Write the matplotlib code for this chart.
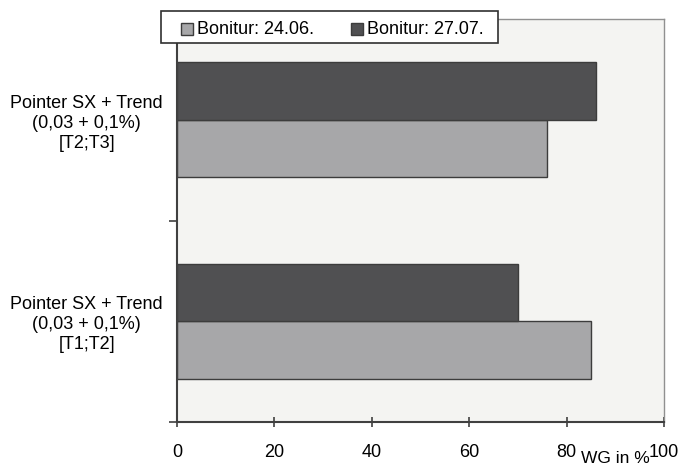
import numpy as np
import matplotlib.pyplot as plt
from matplotlib.patches import Rectangle

plt.rcParams['font.family'] = ['Liberation Sans', 'DejaVu Sans']

# categories bottom -> top
categories = ["Pointer SX + Trend\n(0,03 + 0,1%)\n[T1;T2]",
              "Pointer SX + Trend\n(0,03 + 0,1%)\n[T2;T3]"]
bonitur_2406 = [85, 76]
bonitur_2707 = [70, 86]
series_labels = ["Bonitur: 24.06.", "Bonitur: 27.07."]
xticks = [0, 20, 40, 60, 80, 100]

light = "#a7a7a9"
dark = "#505052"
edge = "#3c3c3c"
W, H = 684, 468

fig = plt.figure(figsize=(W / 100, H / 100), dpi=100)
ax = fig.add_axes([177 / W, 1 - 422 / H, 487 / W, 403 / H])
ax.set_facecolor("#f4f4f2")

y = np.arange(len(categories))
h = 0.285
ax.barh(y - h / 2, bonitur_2406, height=h, color=light, edgecolor=edge, linewidth=1.0)
ax.barh(y + h / 2, bonitur_2707, height=h, color=dark, edgecolor=edge, linewidth=1.0)

ax.set_xlim(0, 100)
ax.set_ylim(-0.5, len(categories) - 0.5)
ax.set_xticks(xticks)
ax.set_xticklabels([str(t) for t in xticks], fontsize=13)
ax.tick_params(axis="x", direction="inout", length=7, width=1.2, color="#404040", pad=12)

# y ticks at category boundaries, labels at centres
ax.set_yticks(np.arange(-0.5, len(categories), 1.0))
ax.set_yticklabels([])
ax.set_yticks(y, minor=True)
ax.set_yticklabels(categories, minor=True, fontsize=13, ha="center", linespacing=1.22)
ax.tick_params(axis="y", which="major", direction="out", length=6, width=1.2, color="#404040")
ax.tick_params(axis="y", which="minor", length=0, pad=65)

for s in ["left", "bottom"]:
    ax.spines[s].set_color("#404040")
    ax.spines[s].set_linewidth(1.5)
for s in ["top", "right"]:
    ax.spines[s].set_color("#909090")
    ax.spines[s].set_linewidth(1.0)

fig.text(650 / W, 1 - 463 / H, "WG in %", ha="right", va="baseline", fontsize=12.5)

# legend box drawn by hand (pixel layout of the original)
fig.patches.append(Rectangle((161 / W, 1 - 43 / H), 337 / W, 32 / H,
                             transform=fig.transFigure, facecolor="white",
                             edgecolor="#303030", linewidth=1.2, zorder=5))
colors = [light, dark]
hx = [181, 351.5]
for x0, c, lab in zip(hx, colors, series_labels):
    fig.patches.append(Rectangle((x0 / W, 1 - 35 / H), 11.5 / W, 11.5 / H,
                                 transform=fig.transFigure, facecolor=c,
                                 edgecolor=edge, linewidth=1.0, zorder=6))
    fig.text((x0 + 16) / W, 1 - 29.3 / H, lab, ha="left", va="center",
             fontsize=13, zorder=7)

fig.savefig("out.png", dpi=100)
